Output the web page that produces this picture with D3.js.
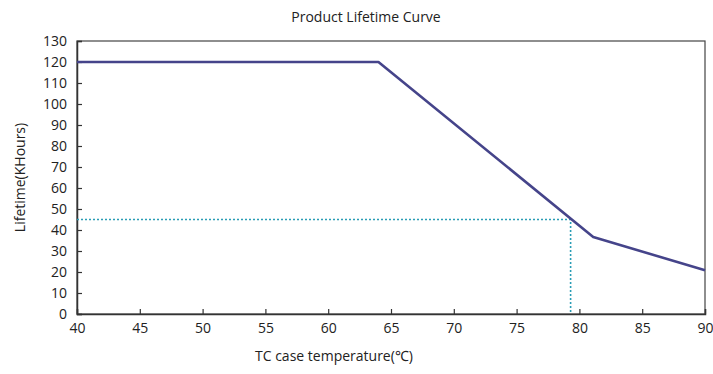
<!DOCTYPE html>
<html>
<head>
<meta charset="utf-8">
<script src="https://cdn.jsdelivr.net/npm/d3@7"></script>
<style>
  body { margin: 0; background: #fff; }
  text { font-family: "Open Sans", "Liberation Sans", Arial, sans-serif; fill: #222; }
</style>
</head>
<body>
<div id="wrapper"></div>
<script>
// data
const tempPoints = [40, 64, 81.1, 90]
const lifePoints = [120, 120, 36.7, 20.8]
const markerTemp = 79.3
const markerLife = 45
const xTicks = [40, 45, 50, 55, 60, 65, 70, 75, 80, 85, 90]
const yTicks = [0, 10, 20, 30, 40, 50, 60, 70, 80, 90, 100, 110, 120, 130]

const width = 713
const height = 374
const margin = { top: 41, right: 8, bottom: 60, left: 77 }
const boundedWidth = width - margin.left - margin.right
const boundedHeight = height - margin.top - margin.bottom

const svg = d3.select('#wrapper').append('svg')
    .attr('width', width)
    .attr('height', height)

const bounds = svg.append('g')
    .attr('transform', `translate(${margin.left},${margin.top})`)

const xScale = d3.scaleLinear().domain([40, 90]).range([0, boundedWidth])
const yScale = d3.scaleLinear().domain([0, 130]).range([boundedHeight, 0])

// frame
bounds.append('rect')
    .attr('width', boundedWidth)
    .attr('height', boundedHeight)
    .attr('fill', 'none')
    .attr('stroke', '#444')
    .attr('stroke-width', 1.2)

// axes (ticks pointing inwards)
const xAxis = bounds.append('g')
    .attr('transform', `translate(0,${boundedHeight})`)
    .call(d3.axisBottom(xScale).tickValues(xTicks).tickSize(-5).tickPadding(9))
xAxis.select('.domain').attr('stroke', '#333').attr('stroke-width', 1.5)
xAxis.selectAll('.tick line').attr('stroke', '#333').attr('stroke-width', 1.2)
xAxis.selectAll('.tick text')
    .style('font-size', '14px')
    .style('font-family', '"Open Sans", sans-serif')
    .attr('fill', '#222')

const yAxis = bounds.append('g')
    .call(d3.axisLeft(yScale).tickValues(yTicks).tickSize(-5).tickPadding(10))
yAxis.select('.domain').attr('stroke', '#333').attr('stroke-width', 1.5)
yAxis.selectAll('.tick line').attr('stroke', '#333').attr('stroke-width', 1.2)
yAxis.selectAll('.tick text')
    .style('font-size', '14px')
    .style('font-family', '"Open Sans", sans-serif')
    .attr('fill', '#222')

// dotted reference lines
bounds.append('path')
    .attr('d', d3.line()([
        [0, yScale(markerLife)],
        [xScale(markerTemp), yScale(markerLife)],
        [xScale(markerTemp), yScale(0)]
    ]))
    .attr('fill', 'none')
    .attr('stroke', '#2a9db5')
    .attr('stroke-width', 1.6)
    .attr('stroke-dasharray', '2,2')

// lifetime curve
const curve = d3.line()
    .x((d, i) => xScale(d))
    .y((d, i) => yScale(lifePoints[i]))

bounds.append('path')
    .attr('d', curve(tempPoints))
    .attr('fill', 'none')
    .attr('stroke', '#45448a')
    .attr('stroke-width', 2.6)
    .attr('stroke-linejoin', 'round')

// labels
svg.append('text')
    .attr('x', 366)
    .attr('y', 22)
    .attr('text-anchor', 'middle')
    .style('font-size', '14px')
    .text('Product Lifetime Curve')

svg.append('text')
    .attr('transform', `translate(25,${margin.top + boundedHeight / 2}) rotate(-90)`)
    .attr('text-anchor', 'middle')
    .style('font-size', '14px')
    .text('Lifetime(KHours)')

svg.append('text')
    .attr('x', 334)
    .attr('y', 361)
    .attr('text-anchor', 'middle')
    .style('font-size', '14px')
    .text('TC case temperature(℃)')
</script>
</body>
</html>
